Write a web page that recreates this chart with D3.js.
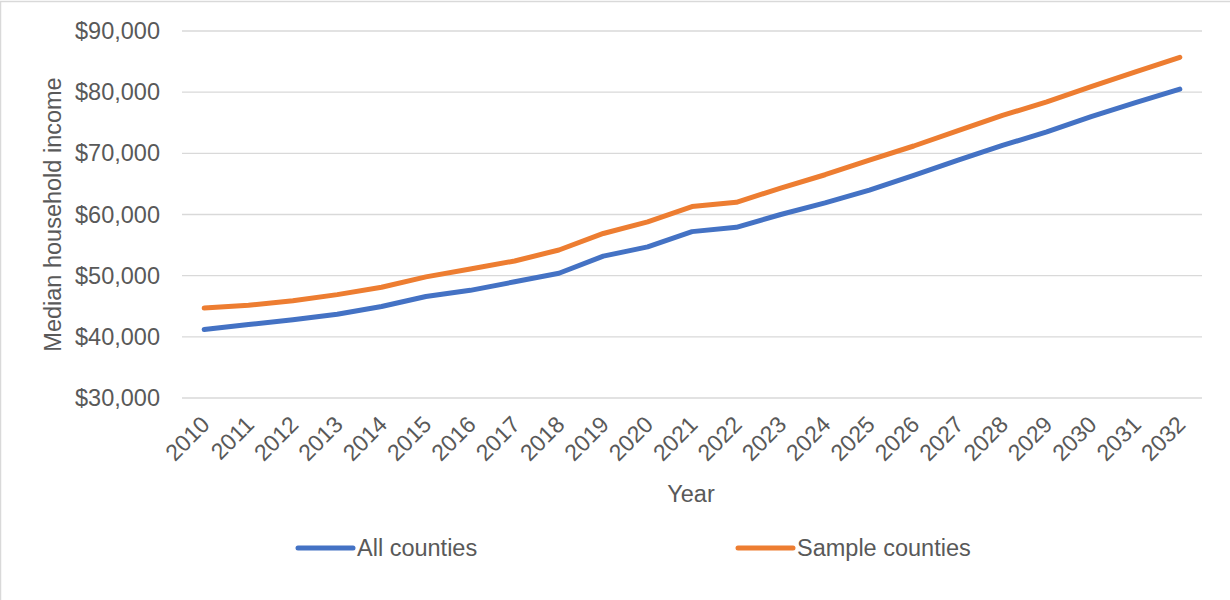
<!DOCTYPE html>
<html>
<head>
<meta charset="utf-8">
<script src="https://cdn.jsdelivr.net/npm/d3@7"></script>
<style>
  body { margin: 0; background: #fff; }
  text { font-family: "Liberation Sans", Arial, sans-serif; fill: #595959; }
</style>
</head>
<body>
<div id="chart-area"></div>
<script>
// years on the x axis
var years = ["2010","2011","2012","2013","2014","2015","2016","2017","2018","2019","2020",
             "2021","2022","2023","2024","2025","2026","2027","2028","2029","2030","2031","2032"];

// median household income
var allCounties = [41200, 42000, 42800, 43700, 44950, 46600, 47600, 49000, 50400, 53200, 54700,
                   57200, 57900, 60000, 61900, 64000, 66400, 68900, 71300, 73500, 76000, 78300, 80500];
var sampleCounties = [44700, 45150, 45900, 46900, 48100, 49800, 51100, 52400, 54200, 56900, 58800,
                      61300, 62000, 64300, 66500, 68900, 71200, 73700, 76200, 78400, 80900, 83300, 85700];

var yTicks = [30000, 40000, 50000, 60000, 70000, 80000, 90000];

var seriesNames = ["All counties", "Sample counties"];
var seriesColors = ["#4472C4", "#ED7D31"];

var W = 1230, H = 600;
var margin = {left: 182, right: 28, top: 31, bottom: 202};
var width = W - margin.left - margin.right;
var height = H - margin.top - margin.bottom;

var svg = d3.select("#chart-area").append("svg")
    .attr("width", W)
    .attr("height", H);

// chart border (only top and left show in the picture)
svg.append("rect")
    .attr("x", 0.5).attr("y", 1.5)
    .attr("width", W + 10).attr("height", H + 10)
    .attr("fill", "none")
    .attr("stroke", "#D9D9D9")
    .attr("stroke-width", 1.5);

var g = svg.append("g")
    .attr("transform", "translate(" + margin.left + "," + margin.top + ")");

var x = d3.scaleBand()
    .domain(years)
    .range([0, width]);

var y = d3.scaleLinear()
    .domain([30000, 90000])
    .range([height, 0]);

// gridlines
g.append("g")
    .selectAll("line")
    .data(yTicks)
    .enter().append("line")
    .attr("x1", 0)
    .attr("x2", width)
    .attr("y1", function(d) { return y(d); })
    .attr("y2", function(d) { return y(d); })
    .attr("stroke", "#D9D9D9")
    .attr("stroke-width", 1.3);

// y axis
var yAxis = d3.axisLeft(y)
    .tickValues(yTicks)
    .tickSize(0)
    .tickPadding(22)
    .tickFormat(function(d) { return "$" + d3.format(",")(d); });

var yg = g.append("g").call(yAxis);
yg.select(".domain").remove();
yg.selectAll("text")
    .style("font-size", "23.5px")
    .attr("fill", "#595959");

// x axis
var xAxis = d3.axisBottom(x).tickSize(0);
var xg = g.append("g")
    .attr("transform", "translate(0," + height + ")")
    .call(xAxis);
xg.select(".domain").remove();
xg.selectAll("text")
    .style("font-size", "23px")
    .attr("fill", "#595959")
    .attr("text-anchor", "end")
    .attr("y", 0)
    .attr("dy", 0)
    .attr("transform", "translate(7,28) rotate(-45)");

// axis titles
g.append("text")
    .attr("x", width / 2 - 1)
    .attr("y", height + 104)
    .attr("text-anchor", "middle")
    .style("font-size", "23.5px")
    .text("Year");

g.append("text")
    .attr("transform", "translate(" + (61 - margin.left) + "," + (y(60000) + 0) + ") rotate(-90)")
    .attr("text-anchor", "middle")
    .style("font-size", "23.5px")
    .text("Median household income");

// lines
var line = d3.line()
    .x(function(d, i) { return x(years[i]) + x.bandwidth() / 2; })
    .y(function(d) { return y(d); });

[allCounties, sampleCounties].forEach(function(vals, k) {
    g.append("path")
        .datum(vals)
        .attr("d", line)
        .attr("fill", "none")
        .attr("stroke", seriesColors[k])
        .attr("stroke-width", 5)
        .attr("stroke-linecap", "round")
        .attr("stroke-linejoin", "round");
});

// legend
var legendX = [298, 738];
var legend = svg.append("g");
seriesNames.forEach(function(name, k) {
    legend.append("line")
        .attr("x1", legendX[k])
        .attr("x2", legendX[k] + 55)
        .attr("y1", 548)
        .attr("y2", 548)
        .attr("stroke", seriesColors[k])
        .attr("stroke-width", 5)
        .attr("stroke-linecap", "round");
    legend.append("text")
        .attr("x", legendX[k] + 59)
        .attr("y", 556)
        .style("font-size", "23.5px")
        .text(name);
});
</script>
</body>
</html>
